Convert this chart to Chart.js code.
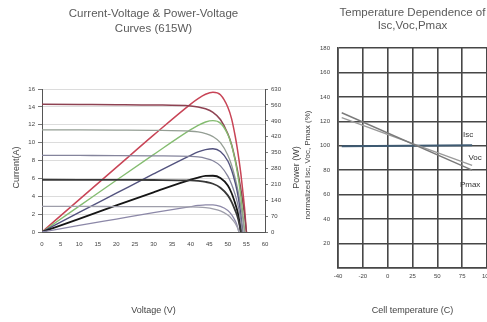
<!DOCTYPE html>
<html>
<head>
<meta charset="utf-8">
<script src="https://cdn.jsdelivr.net/npm/chart.js@4.4.1/dist/chart.umd.min.js"></script>
<style>
  html, body { margin: 0; padding: 0; background: #fff; overflow: hidden; }
  body { width: 487px; height: 322px; position: relative; }
  #ivBox { position: absolute; left: 0; top: 0; width: 303px; height: 322px; }
  #tempBox { position: absolute; left: 300px; top: 0; width: 200px; height: 322px; }
</style>
</head>
<body>
<div id="ivBox"><canvas id="ivChart"></canvas></div>
<div id="tempBox"><canvas id="tempChart"></canvas></div>
<script>
// I-V / P-V curves (one value per voltage step)
const voltage = [0, 10, 20, 30, 40, 42, 44, 46, 48, 50, 51, 52, 52.5, 53, 53.5, 54, 54.5, 55];

const current1000 = [14.3, 14.28, 14.26, 14.22, 14.1, 14.0, 13.8, 13.4, 12.6, 11.0, 9.8, 8.1, 7.1, 6.0, 4.8, 3.4, 1.9, 0];
const current800 = [11.44, 11.43, 11.41, 11.38, 11.28, 11.2, 11.02, 10.68, 10.0, 8.6, 7.5, 6.0, 5.1, 4.1, 2.9, 1.6, 0, null];
const current600 = [8.58, 8.57, 8.56, 8.53, 8.46, 8.4, 8.25, 7.98, 7.4, 6.25, 5.35, 4.15, 3.4, 2.5, 1.4, 0, null, null];
const current400 = [5.85, 5.84, 5.83, 5.82, 5.77, 5.72, 5.61, 5.4, 4.96, 4.1, 3.38, 2.4, 1.84, 1.08, 0, null, null, null];
const current200 = [2.86, 2.86, 2.85, 2.84, 2.81, 2.78, 2.72, 2.6, 2.36, 1.9, 1.5, 0.95, 0.55, 0, null, null, null, null];

const power1000 = [0, 143, 285, 427, 564, 588, 607, 616, 605, 550, 500, 421, 373, 318, 257, 184, 104, 0];
const power800 = [0, 114, 228, 341, 451, 470, 485, 491, 480, 430, 383, 312, 268, 217, 155, 86, 0, null];
const power600 = [0, 86, 171, 256, 338, 353, 363, 367, 355, 313, 273, 216, 179, 133, 75, 0, null, null];
const power400 = [0, 58, 117, 175, 231, 240, 247, 248, 238, 205, 172, 125, 97, 57, 0, null, null, null];
const power200 = [0, 29, 57, 85, 112, 117, 120, 120, 113, 95, 77, 49, 29, 0, null, null, null, null];

// temperature dependence (percent of STC value)
const tempTicks = [-40, -20, 0, 25, 50, 75, 100];
const tempPoints = [-37, 85];
const iscPct = [99.5, 100.5];
const vocPct = [123, 84];
const pmaxPct = [127, 80];
const curveLabels = [
    { text: 'Isc', temp: 81, value: 109 },
    { text: 'Voc', temp: 88, value: 90 },
    { text: 'Pmax', temp: 83, value: 68 },
];

Chart.defaults.font.family = 'Arial, "Liberation Sans", sans-serif';
Chart.defaults.color = '#555';
Chart.defaults.animation = false;

function zip(values) {
    return voltage.map(function (v, i) { return { x: v, y: values[i] }; });
}

// tick labels are evenly spaced but not evenly valued
function tempToPos(t) {
    for (let i = 0; i < tempTicks.length - 1; i++) {
        const a = tempTicks[i], b = tempTicks[i + 1];
        if (t <= b || i === tempTicks.length - 2) return i + (t - a) / (b - a);
    }
    return 0;
}

function tempSeries(values) {
    return tempPoints.map(function (t, i) { return { x: tempToPos(t), y: values[i] }; });
}

const rotatedTitles = {
    id: 'rotatedTitles',
    afterDraw(chart, args, opts) {
        const ctx = chart.ctx;
        const area = chart.chartArea;
        ctx.save();
        ctx.fillStyle = opts.color || '#444';
        ctx.font = opts.font;
        ctx.textAlign = 'center';
        ctx.textBaseline = 'middle';
        (opts.items || []).forEach(function (it) {
            ctx.save();
            ctx.translate(it.x, (area.top + area.bottom) / 2 + (it.dy || 0));
            ctx.rotate(-Math.PI / 2);
            ctx.fillText(it.text, 0, 0);
            ctx.restore();
        });
        ctx.restore();
    }
};

const curveNames = {
    id: 'curveNames',
    afterDatasetsDraw(chart) {
        const ctx = chart.ctx;
        const xs = chart.scales.x, ys = chart.scales.y;
        ctx.save();
        ctx.fillStyle = '#333';
        ctx.font = '8px Arial, "Liberation Sans", sans-serif';
        ctx.textAlign = 'center';
        ctx.textBaseline = 'middle';
        curveLabels.forEach(function (l) {
            ctx.fillText(l.text, xs.getPixelForValue(tempToPos(l.temp)), ys.getPixelForValue(l.value));
        });
        ctx.restore();
    }
};

function ivLine(values, color, width, axis) {
    return {
        data: zip(values),
        yAxisID: axis,
        borderColor: color,
        borderWidth: width,
        pointRadius: 0,
        fill: false,
        cubicInterpolationMode: 'monotone',
    };
}

new Chart(document.getElementById('ivChart'), {
    type: 'line',
    data: {
        datasets: [
            ivLine(current200, '#9e9eaa', 1.3, 'y'),
            ivLine(power200, '#8c88a8', 1.3, 'y1'),
            ivLine(current400, '#383838', 1.8, 'y'),
            ivLine(power400, '#151515', 1.8, 'y1'),
            ivLine(current600, '#84849c', 1.3, 'y'),
            ivLine(power600, '#52527e', 1.4, 'y1'),
            ivLine(current800, '#949e94', 1.3, 'y'),
            ivLine(power800, '#84bc70', 1.4, 'y1'),
            ivLine(current1000, '#8e4252', 1.5, 'y'),
            ivLine(power1000, '#c84456', 1.5, 'y1'),
        ],
    },
    options: {
        responsive: true,
        maintainAspectRatio: false,
        layout: { padding: { top: 6, bottom: 6, left: 0, right: 0 } },
        plugins: {
            legend: { display: false },
            tooltip: { enabled: false },
            title: {
                display: true,
                fullSize: false,
                text: ['Current-Voltage & Power-Voltage', 'Curves (615W)'],
                color: '#5a5a5a',
                font: { size: 11.5, weight: 'normal', lineHeight: 1.33 },
                padding: { top: 0, bottom: 52.5 },
            },
            rotatedTitles: {
                font: '9px Arial, "Liberation Sans", sans-serif',
                color: '#444',
                items: [
                    { text: 'Current(A)', x: 17, dy: 7 },
                    { text: 'Power (W)', x: 297, dy: 7 },
                ],
            },
        },
        scales: {
            x: {
                type: 'linear',
                min: 0,
                max: 60,
                ticks: { stepSize: 5, font: { size: 6 }, color: '#444', padding: 5 },
                grid: { display: false, tickLength: 4 },
                border: { display: true, color: '#555', width: 1 },
                title: {
                    display: true,
                    text: 'Voltage (V)',
                    color: '#444',
                    font: { size: 9 },
                    padding: { top: 4, bottom: 0 },
                },
                afterFit(scale) { scale.height = 84; },
            },
            y: {
                position: 'left',
                min: 0,
                max: 16,
                ticks: { stepSize: 2, font: { size: 6 }, color: '#444', padding: 3 },
                grid: { color: '#dcdcdc', tickLength: 4, tickColor: '#777' },
                border: { display: true, color: '#555', width: 1 },
                afterFit(scale) { scale.width = 42; },
            },
            y1: {
                position: 'right',
                min: 0,
                max: 630,
                ticks: { stepSize: 70, font: { size: 6 }, color: '#444', padding: 3 },
                grid: { drawOnChartArea: false, tickLength: 3, color: '#777' },
                border: { display: true, color: '#555', width: 1 },
                afterFit(scale) { scale.width = 38; },
            },
        },
    },
    plugins: [rotatedTitles],
});

new Chart(document.getElementById('tempChart'), {
    type: 'line',
    data: {
        datasets: [
            {
                data: tempSeries(pmaxPct),
                borderColor: '#7a7a7a',
                borderWidth: 1.4,
                pointRadius: 0,
            },
            {
                data: tempSeries(vocPct),
                borderColor: '#9a9a9a',
                borderWidth: 1.4,
                pointRadius: 0,
            },
            {
                data: tempSeries(iscPct),
                borderColor: '#3e5a72',
                borderWidth: 2,
                pointRadius: 0,
            },
        ],
    },
    options: {
        responsive: true,
        maintainAspectRatio: false,
        layout: { padding: { top: 6, bottom: 6, left: 0, right: 13 } },
        plugins: {
            legend: { display: false },
            tooltip: { enabled: false },
            title: {
                display: true,
                fullSize: false,
                text: ['Temperature Dependence of', 'Isc,Voc,Pmax'],
                color: '#5a5a5a',
                font: { size: 11.5, weight: 'normal', lineHeight: 1.15 },
                padding: { top: 0, bottom: 15.5 },
            },
            rotatedTitles: {
                font: '8px Arial, "Liberation Sans", sans-serif',
                color: '#444',
                items: [
                    { text: 'normalized Isc, Voc, Pmax (%)', x: 8, dy: 7 },
                ],
            },
        },
        scales: {
            x: {
                type: 'linear',
                min: 0,
                max: tempTicks.length - 1,
                ticks: {
                    stepSize: 1,
                    font: { size: 6 },
                    color: '#444',
                    padding: 5,
                    callback: function (v) { return tempTicks[v]; },
                },
                grid: { color: '#474747', lineWidth: 1.6, drawTicks: false },
                border: { display: true, color: '#474747', width: 1.6 },
                title: {
                    display: true,
                    text: 'Cell temperature (C)',
                    color: '#444',
                    font: { size: 9 },
                    padding: { top: 4, bottom: 0 },
                },
                afterFit(scale) { scale.height = 48; },
            },
            y: {
                min: 0,
                max: 180,
                ticks: {
                    stepSize: 20,
                    font: { size: 6 },
                    color: '#444',
                    padding: 8,
                    callback: function (v) { return v === 0 ? '' : v; },
                },
                grid: { color: '#474747', lineWidth: 1.6, drawTicks: false },
                border: { display: true, color: '#474747', width: 1.6 },
                afterFit(scale) { scale.width = 38; },
            },
        },
    },
    plugins: [rotatedTitles, curveNames],
});
</script>
</body>
</html>
